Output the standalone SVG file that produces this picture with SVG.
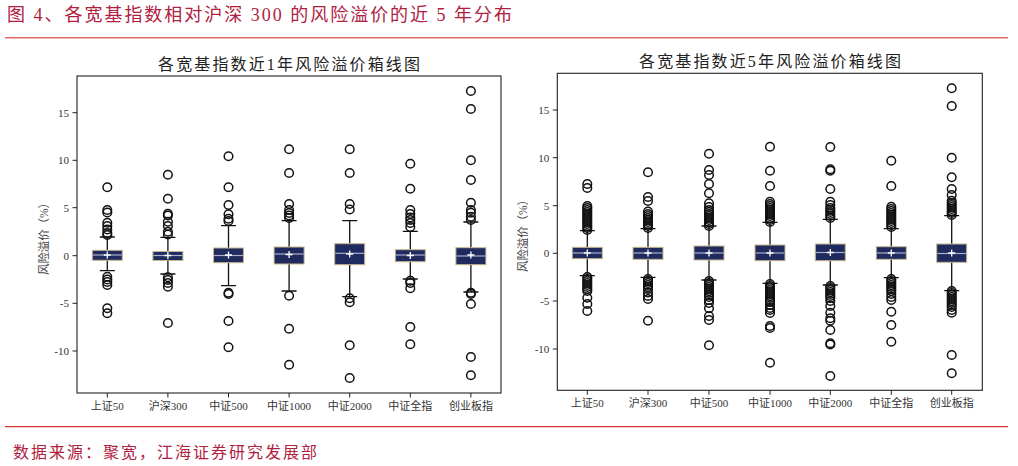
<svg xmlns="http://www.w3.org/2000/svg" width="1018" height="466" viewBox="0 0 1018 466">
<style>
.hdr{font-family:"Liberation Serif","Noto Sans CJK SC",serif;font-size:18px;fill:#b0203f}
.src{font-family:"Liberation Serif","Noto Sans CJK SC",serif;font-size:16px;fill:#b0203f}
.ttl{font-family:"Liberation Serif","Noto Sans CJK SC",serif;font-size:16px;fill:#222}
.tk{font-family:"Liberation Serif","Noto Sans CJK SC",serif;font-size:11px;fill:#333}
.yl{font-family:"Liberation Serif","Noto Sans CJK SC",serif;font-size:11.5px;fill:#444}
.frame{fill:none;stroke:#222;stroke-width:1.1}
.tick{stroke:#222;stroke-width:1}
.box{fill:#1f2a5e;stroke:#c8b890;stroke-width:1}
.wh{stroke:#111;stroke-width:1.3;fill:none}
.med{stroke:#a9b0cc;stroke-width:1.2}
.mean{stroke:#fff;stroke-width:1.3;fill:none}
.fl circle{fill:none;stroke:#111;stroke-width:1.5}
</style>
<g id="header">
<text class="hdr" x="7" y="21" textLength="505" lengthAdjust="spacing">图 4、各宽基指数相对沪深 300 的风险溢价的近 5 年分布</text>
<line x1="5" y1="37.7" x2="1008" y2="37.7" stroke="#e06a6a" stroke-width="1.4"/>
</g>
<g id="footer">
<line x1="5" y1="426.7" x2="1008" y2="426.7" stroke="#d93030" stroke-width="1.2"/>
<text class="src" x="13" y="457.5" textLength="304" lengthAdjust="spacing">数据来源：聚宽，江海证券研究发展部</text>
</g>

<!-- LEFT CHART -->
<g id="chart-1y">
<text class="ttl" x="289" y="70" text-anchor="middle" textLength="262" lengthAdjust="spacing">各宽基指数近1年风险溢价箱线图</text>
<rect class="frame" x="77" y="76" width="424" height="317"/>
<g id="left-yaxis">
<line class="tick" x1="72.5" y1="112.7" x2="77" y2="112.7"/>
<line class="tick" x1="72.5" y1="160.3" x2="77" y2="160.3"/>
<line class="tick" x1="72.5" y1="207.7" x2="77" y2="207.7"/>
<line class="tick" x1="72.5" y1="255.7" x2="77" y2="255.7"/>
<line class="tick" x1="72.5" y1="303.3" x2="77" y2="303.3"/>
<line class="tick" x1="72.5" y1="351" x2="77" y2="351"/>
<text class="tk" x="69" y="116.5" text-anchor="end">15</text>
<text class="tk" x="69" y="164" text-anchor="end">10</text>
<text class="tk" x="69" y="211.5" text-anchor="end">5</text>
<text class="tk" x="69" y="259.5" text-anchor="end">0</text>
<text class="tk" x="69" y="307" text-anchor="end">-5</text>
<text class="tk" x="69" y="355" text-anchor="end">-10</text>
<text class="yl" transform="translate(48,236) rotate(-90)" x="-39" y="0" textLength="78" lengthAdjust="spacing">风险溢价（%）</text>
</g>
<g id="left-xaxis">
<line class="tick" x1="107.3" y1="393" x2="107.3" y2="397.5"/>
<line class="tick" x1="167.9" y1="393" x2="167.9" y2="397.5"/>
<line class="tick" x1="228.5" y1="393" x2="228.5" y2="397.5"/>
<line class="tick" x1="289.1" y1="393" x2="289.1" y2="397.5"/>
<line class="tick" x1="349.7" y1="393" x2="349.7" y2="397.5"/>
<line class="tick" x1="410.3" y1="393" x2="410.3" y2="397.5"/>
<line class="tick" x1="470.9" y1="393" x2="470.9" y2="397.5"/>
<text class="tk" x="107.3" y="410" text-anchor="middle">上证50</text>
<text class="tk" x="167.9" y="410" text-anchor="middle">沪深300</text>
<text class="tk" x="228.5" y="410" text-anchor="middle">中证500</text>
<text class="tk" x="289.1" y="410" text-anchor="middle">中证1000</text>
<text class="tk" x="349.7" y="410" text-anchor="middle">中证2000</text>
<text class="tk" x="410.3" y="410" text-anchor="middle">中证全指</text>
<text class="tk" x="470.9" y="410" text-anchor="middle">创业板指</text>
</g>

<g id="L-sz50">
<path class="wh" d="M107.3 250.3V237M99.8 237h15M107.3 260.3V270.7M99.8 270.7h15"/>
<rect class="box" x="92.3" y="250.3" width="30" height="10"/>
<line class="med" x1="92.8" y1="255" x2="121.8" y2="255"/>
<path class="mean" d="M103.8 255h7M107.3 251.5v7"/>
<g class="fl" transform="translate(107.3,0)">
<circle r="4.3" cy="187.3"/><circle r="4.3" cy="210"/><circle r="4.3" cy="212.5"/><circle r="4.3" cy="222.7"/><circle r="4.3" cy="226"/><circle r="4.3" cy="229.5"/><circle r="4.3" cy="233"/><circle r="4.3" cy="235"/>
<circle r="4.3" cy="276.7"/><circle r="4.3" cy="279.5"/><circle r="4.3" cy="282"/><circle r="4.3" cy="285"/><circle r="4.3" cy="308.3"/><circle r="4.3" cy="313.3"/>
</g>
</g>
<g id="L-hs300">
<path class="wh" d="M167.9 251.5V237.3M160.4 237.3h15M167.9 260.5V274M160.4 274h15"/>
<rect class="box" x="152.9" y="251.5" width="30" height="9"/>
<line class="med" x1="153.4" y1="255.5" x2="182.4" y2="255.5"/>
<path class="mean" d="M164.4 255.5h7M167.9 252v7"/>
<g class="fl" transform="translate(167.9,0)">
<circle r="4.3" cy="174.7"/><circle r="4.3" cy="198.7"/><circle r="4.3" cy="213.7"/><circle r="4.3" cy="215.5"/><circle r="4.3" cy="221.7"/><circle r="4.3" cy="226"/><circle r="4.3" cy="231.7"/><circle r="4.3" cy="234.5"/>
<circle r="4.3" cy="277.3"/><circle r="4.3" cy="280"/><circle r="4.3" cy="283"/><circle r="4.3" cy="286.7"/><circle r="4.3" cy="323"/>
</g>
</g>
<g id="L-zz500">
<path class="wh" d="M228.5 248V225.7M221 225.7h15M228.5 262.7V285.7M221 285.7h15"/>
<rect class="box" x="213.5" y="248" width="30" height="14.7"/>
<line class="med" x1="214" y1="255.5" x2="243" y2="255.5"/>
<path class="mean" d="M225 255h7M228.5 251.5v7"/>
<g class="fl" transform="translate(228.5,0)">
<circle r="4.3" cy="156.3"/><circle r="4.3" cy="187.3"/><circle r="4.3" cy="205"/><circle r="4.3" cy="214.3"/><circle r="4.3" cy="218.7"/><circle r="4.3" cy="221"/>
<circle r="4.3" cy="292.7"/><circle r="4.3" cy="294"/><circle r="4.3" cy="321"/><circle r="4.3" cy="347.3"/>
</g>
</g>
<g id="L-zz1000">
<path class="wh" d="M289.1 247V220.7M281.6 220.7h15M289.1 264V291M281.6 291h15"/>
<rect class="box" x="274.1" y="247" width="30" height="17"/>
<line class="med" x1="274.6" y1="254" x2="303.6" y2="254"/>
<path class="mean" d="M285.6 254.5h7M289.1 251v7"/>
<g class="fl" transform="translate(289.1,0)">
<circle r="4.3" cy="149.3"/><circle r="4.3" cy="173"/><circle r="4.3" cy="204"/><circle r="4.3" cy="210"/><circle r="4.3" cy="213"/><circle r="4.3" cy="215.5"/><circle r="4.3" cy="218"/>
<circle r="4.3" cy="295.7"/><circle r="4.3" cy="328.7"/><circle r="4.3" cy="364.7"/>
</g>
</g>
<g id="L-zz2000">
<path class="wh" d="M349.7 243.7V220.7M342.2 220.7h15M349.7 264.7V296.7M342.2 296.7h15"/>
<rect class="box" x="334.7" y="243.7" width="30" height="21"/>
<line class="med" x1="335.2" y1="253.3" x2="364.2" y2="253.3"/>
<path class="mean" d="M346.2 254h7M349.7 250.5v7"/>
<g class="fl" transform="translate(349.7,0)">
<circle r="4.3" cy="149.3"/><circle r="4.3" cy="173"/><circle r="4.3" cy="204"/><circle r="4.3" cy="209.5"/>
<circle r="4.3" cy="298.3"/><circle r="4.3" cy="302.3"/><circle r="4.3" cy="345.3"/><circle r="4.3" cy="378"/>
</g>
</g>
<g id="L-zzqz">
<path class="wh" d="M410.3 249.7V231.3M402.8 231.3h15M410.3 261.7V279M402.8 279h15"/>
<rect class="box" x="395.3" y="249.7" width="30" height="12"/>
<line class="med" x1="395.8" y1="255" x2="424.8" y2="255"/>
<path class="mean" d="M406.8 255.5h7M410.3 252v7"/>
<g class="fl" transform="translate(410.3,0)">
<circle r="4.3" cy="163.7"/><circle r="4.3" cy="188.7"/><circle r="4.3" cy="210"/><circle r="4.3" cy="214"/><circle r="4.3" cy="217.5"/><circle r="4.3" cy="220"/><circle r="4.3" cy="223"/><circle r="4.3" cy="227"/>
<circle r="4.3" cy="280.7"/><circle r="4.3" cy="283"/><circle r="4.3" cy="288.3"/><circle r="4.3" cy="327"/><circle r="4.3" cy="344.3"/>
</g>
</g>
<g id="L-cybz">
<path class="wh" d="M470.9 247.7V222M463.4 222h15M470.9 264.7V292M463.4 292h15"/>
<rect class="box" x="455.9" y="247.7" width="30" height="17"/>
<line class="med" x1="456.4" y1="256" x2="485.4" y2="256"/>
<path class="mean" d="M467.4 255h7M470.9 251.5v7"/>
<g class="fl" transform="translate(470.9,0)">
<circle r="4.3" cy="91"/><circle r="4.3" cy="109"/><circle r="4.3" cy="160.3"/><circle r="4.3" cy="180"/><circle r="4.3" cy="202.7"/><circle r="4.3" cy="210"/><circle r="4.3" cy="212.7"/><circle r="4.3" cy="216.7"/><circle r="4.3" cy="220"/>
<circle r="4.3" cy="292.7"/><circle r="4.3" cy="294"/><circle r="4.3" cy="304"/><circle r="4.3" cy="357"/><circle r="4.3" cy="375.3"/>
</g>
</g>
</g>

<!-- RIGHT CHART -->
<g id="chart-5y">
<text class="ttl" x="770" y="67" text-anchor="middle" textLength="262" lengthAdjust="spacing">各宽基指数近5年风险溢价箱线图</text>
<rect class="frame" x="557.3" y="73.3" width="425" height="317"/>
<g id="right-yaxis">
<line class="tick" x1="552.8" y1="110" x2="557.3" y2="110"/>
<line class="tick" x1="552.8" y1="157.7" x2="557.3" y2="157.7"/>
<line class="tick" x1="552.8" y1="205.7" x2="557.3" y2="205.7"/>
<line class="tick" x1="552.8" y1="253.3" x2="557.3" y2="253.3"/>
<line class="tick" x1="552.8" y1="301" x2="557.3" y2="301"/>
<line class="tick" x1="552.8" y1="349" x2="557.3" y2="349"/>
<text class="tk" x="549.3" y="114" text-anchor="end">15</text>
<text class="tk" x="549.3" y="161.5" text-anchor="end">10</text>
<text class="tk" x="549.3" y="209.5" text-anchor="end">5</text>
<text class="tk" x="549.3" y="257" text-anchor="end">0</text>
<text class="tk" x="549.3" y="305" text-anchor="end">-5</text>
<text class="tk" x="549.3" y="353" text-anchor="end">-10</text>
<text class="yl" transform="translate(527,233) rotate(-90)" x="-39" y="0" textLength="78" lengthAdjust="spacing">风险溢价（%）</text>
</g>
<g id="right-xaxis">
<line class="tick" x1="587.3" y1="390.3" x2="587.3" y2="394.8"/>
<line class="tick" x1="648" y1="390.3" x2="648" y2="394.8"/>
<line class="tick" x1="709" y1="390.3" x2="709" y2="394.8"/>
<line class="tick" x1="770" y1="390.3" x2="770" y2="394.8"/>
<line class="tick" x1="830.3" y1="390.3" x2="830.3" y2="394.8"/>
<line class="tick" x1="891.3" y1="390.3" x2="891.3" y2="394.8"/>
<line class="tick" x1="951.7" y1="390.3" x2="951.7" y2="394.8"/>
<text class="tk" x="587.3" y="407.3" text-anchor="middle">上证50</text>
<text class="tk" x="648" y="407.3" text-anchor="middle">沪深300</text>
<text class="tk" x="709" y="407.3" text-anchor="middle">中证500</text>
<text class="tk" x="770" y="407.3" text-anchor="middle">中证1000</text>
<text class="tk" x="830.3" y="407.3" text-anchor="middle">中证2000</text>
<text class="tk" x="891.3" y="407.3" text-anchor="middle">中证全指</text>
<text class="tk" x="951.7" y="407.3" text-anchor="middle">创业板指</text>
</g>

<g id="R-sz50">
<path class="wh" d="M587.3 247.3V230.7M579.8 230.7h15M587.3 258.7V275.7M579.8 275.7h15"/>
<rect class="box" x="572.3" y="247.3" width="30" height="11.4"/>
<line class="med" x1="572.8" y1="253" x2="601.8" y2="253"/>
<path class="mean" d="M583.8 253h7M587.3 249.5v7"/>
<g class="fl" transform="translate(587.3,0)">
<circle r="4.3" cy="184"/><circle r="4.3" cy="188"/><circle r="4.3" cy="206"/><circle r="4.3" cy="208"/><circle r="4.3" cy="210"/><circle r="4.3" cy="212"/><circle r="4.3" cy="214"/><circle r="4.3" cy="216"/><circle r="4.3" cy="218"/><circle r="4.3" cy="220"/><circle r="4.3" cy="222"/><circle r="4.3" cy="224"/><circle r="4.3" cy="226"/><circle r="4.3" cy="228"/><circle r="4.3" cy="230"/>
<circle r="4.3" cy="277"/><circle r="4.3" cy="279"/><circle r="4.3" cy="281"/><circle r="4.3" cy="283"/><circle r="4.3" cy="285"/><circle r="4.3" cy="287"/><circle r="4.3" cy="289"/><circle r="4.3" cy="291"/><circle r="4.3" cy="297.7"/><circle r="4.3" cy="304"/><circle r="4.3" cy="311"/>
</g>
</g>
<g id="R-hs300">
<path class="wh" d="M648 247.3V228.7M640.5 228.7h15M648 259.3V277.3M640.5 277.3h15"/>
<rect class="box" x="633" y="247.3" width="30" height="12"/>
<line class="med" x1="633.5" y1="253" x2="662.5" y2="253"/>
<path class="mean" d="M644.5 253h7M648 249.5v7"/>
<g class="fl" transform="translate(648,0)">
<circle r="4.3" cy="172.3"/><circle r="4.3" cy="197"/><circle r="4.3" cy="201"/><circle r="4.3" cy="211.5"/><circle r="4.3" cy="214"/><circle r="4.3" cy="216"/><circle r="4.3" cy="218"/><circle r="4.3" cy="220"/><circle r="4.3" cy="222"/><circle r="4.3" cy="224"/><circle r="4.3" cy="226"/><circle r="4.3" cy="228"/>
<circle r="4.3" cy="279"/><circle r="4.3" cy="281"/><circle r="4.3" cy="283"/><circle r="4.3" cy="285"/><circle r="4.3" cy="287"/><circle r="4.3" cy="289"/><circle r="4.3" cy="292.5"/><circle r="4.3" cy="296"/><circle r="4.3" cy="299"/><circle r="4.3" cy="320.7"/>
</g>
</g>
<g id="R-zz500">
<path class="wh" d="M709 246V226M701.5 226h15M709 260V280M701.5 280h15"/>
<rect class="box" x="694" y="246" width="30" height="14"/>
<line class="med" x1="694.5" y1="253" x2="723.5" y2="253"/>
<path class="mean" d="M705.5 253h7M709 249.5v7"/>
<g class="fl" transform="translate(709,0)">
<circle r="4.3" cy="153.7"/><circle r="4.3" cy="170"/><circle r="4.3" cy="175"/><circle r="4.3" cy="184"/><circle r="4.3" cy="193.3"/><circle r="4.3" cy="203.3"/><circle r="4.3" cy="207"/><circle r="4.3" cy="210"/><circle r="4.3" cy="212"/><circle r="4.3" cy="214"/><circle r="4.3" cy="216"/><circle r="4.3" cy="218"/><circle r="4.3" cy="220"/><circle r="4.3" cy="222"/><circle r="4.3" cy="224"/><circle r="4.3" cy="226"/>
<circle r="4.3" cy="281"/><circle r="4.3" cy="283"/><circle r="4.3" cy="285"/><circle r="4.3" cy="287"/><circle r="4.3" cy="289"/><circle r="4.3" cy="291"/><circle r="4.3" cy="293"/><circle r="4.3" cy="295"/><circle r="4.3" cy="297"/><circle r="4.3" cy="300"/><circle r="4.3" cy="303"/><circle r="4.3" cy="308.3"/><circle r="4.3" cy="316"/><circle r="4.3" cy="320"/><circle r="4.3" cy="345.3"/>
</g>
</g>
<g id="R-zz1000">
<path class="wh" d="M770 245V222.3M762.5 222.3h15M770 260.7V283.3M762.5 283.3h15"/>
<rect class="box" x="755" y="245" width="30" height="15.7"/>
<line class="med" x1="755.5" y1="253" x2="784.5" y2="253"/>
<path class="mean" d="M766.5 253h7M770 249.5v7"/>
<g class="fl" transform="translate(770,0)">
<circle r="4.3" cy="146.7"/><circle r="4.3" cy="170.7"/><circle r="4.3" cy="186"/><circle r="4.3" cy="201.7"/><circle r="4.3" cy="204"/><circle r="4.3" cy="206"/><circle r="4.3" cy="208"/><circle r="4.3" cy="210"/><circle r="4.3" cy="212"/><circle r="4.3" cy="214"/><circle r="4.3" cy="216"/><circle r="4.3" cy="218"/><circle r="4.3" cy="220"/><circle r="4.3" cy="222"/>
<circle r="4.3" cy="284"/><circle r="4.3" cy="286"/><circle r="4.3" cy="288"/><circle r="4.3" cy="290"/><circle r="4.3" cy="292"/><circle r="4.3" cy="294"/><circle r="4.3" cy="296"/><circle r="4.3" cy="298"/><circle r="4.3" cy="300"/><circle r="4.3" cy="302"/><circle r="4.3" cy="305"/><circle r="4.3" cy="308"/><circle r="4.3" cy="310"/><circle r="4.3" cy="313"/><circle r="4.3" cy="326"/><circle r="4.3" cy="328"/><circle r="4.3" cy="362.7"/>
</g>
</g>
<g id="R-zz2000">
<path class="wh" d="M830.3 244V219.3M822.8 219.3h15M830.3 260.7V285M822.8 285h15"/>
<rect class="box" x="815.3" y="244" width="30" height="16.7"/>
<line class="med" x1="815.8" y1="252.5" x2="844.8" y2="252.5"/>
<path class="mean" d="M826.8 252.5h7M830.3 249v7"/>
<g class="fl" transform="translate(830.3,0)">
<circle r="4.3" cy="147"/><circle r="4.3" cy="169.3"/><circle r="4.3" cy="170.7"/><circle r="4.3" cy="189"/><circle r="4.3" cy="201.7"/><circle r="4.3" cy="205"/><circle r="4.3" cy="208"/><circle r="4.3" cy="210"/><circle r="4.3" cy="212"/><circle r="4.3" cy="214"/><circle r="4.3" cy="216"/><circle r="4.3" cy="218"/>
<circle r="4.3" cy="286"/><circle r="4.3" cy="288"/><circle r="4.3" cy="290"/><circle r="4.3" cy="292"/><circle r="4.3" cy="294"/><circle r="4.3" cy="296"/><circle r="4.3" cy="298"/><circle r="4.3" cy="301"/><circle r="4.3" cy="306"/><circle r="4.3" cy="312.7"/><circle r="4.3" cy="318.3"/><circle r="4.3" cy="320.7"/><circle r="4.3" cy="330"/><circle r="4.3" cy="343.3"/><circle r="4.3" cy="344.5"/><circle r="4.3" cy="376"/>
</g>
</g>
<g id="R-zzqz">
<path class="wh" d="M891.3 246.7V228.7M883.8 228.7h15M891.3 259.3V277.7M883.8 277.7h15"/>
<rect class="box" x="876.3" y="246.7" width="30" height="12.6"/>
<line class="med" x1="876.8" y1="253" x2="905.8" y2="253"/>
<path class="mean" d="M887.8 253h7M891.3 249.5v7"/>
<g class="fl" transform="translate(891.3,0)">
<circle r="4.3" cy="160.7"/><circle r="4.3" cy="186"/><circle r="4.3" cy="206.7"/><circle r="4.3" cy="209"/><circle r="4.3" cy="211"/><circle r="4.3" cy="213"/><circle r="4.3" cy="215"/><circle r="4.3" cy="217"/><circle r="4.3" cy="219"/><circle r="4.3" cy="221"/><circle r="4.3" cy="223"/><circle r="4.3" cy="225"/><circle r="4.3" cy="227"/>
<circle r="4.3" cy="279"/><circle r="4.3" cy="281"/><circle r="4.3" cy="283"/><circle r="4.3" cy="285"/><circle r="4.3" cy="287"/><circle r="4.3" cy="289"/><circle r="4.3" cy="291"/><circle r="4.3" cy="294"/><circle r="4.3" cy="297"/><circle r="4.3" cy="300"/><circle r="4.3" cy="311.7"/><circle r="4.3" cy="325"/><circle r="4.3" cy="341.7"/>
</g>
</g>
<g id="R-cybz">
<path class="wh" d="M951.7 244V215.7M944.2 215.7h15M951.7 262.3V290.7M944.2 290.7h15"/>
<rect class="box" x="936.7" y="244" width="30" height="18.3"/>
<line class="med" x1="937.2" y1="253.5" x2="966.2" y2="253.5"/>
<path class="mean" d="M948.2 253h7M951.7 249.5v7"/>
<g class="fl" transform="translate(951.7,0)">
<circle r="4.3" cy="88.3"/><circle r="4.3" cy="106"/><circle r="4.3" cy="157.7"/><circle r="4.3" cy="177.3"/><circle r="4.3" cy="189"/><circle r="4.3" cy="195"/><circle r="4.3" cy="200.7"/><circle r="4.3" cy="203"/><circle r="4.3" cy="205"/><circle r="4.3" cy="207"/><circle r="4.3" cy="209"/><circle r="4.3" cy="211"/><circle r="4.3" cy="213"/><circle r="4.3" cy="215"/>
<circle r="4.3" cy="291"/><circle r="4.3" cy="293"/><circle r="4.3" cy="295"/><circle r="4.3" cy="297"/><circle r="4.3" cy="299"/><circle r="4.3" cy="301"/><circle r="4.3" cy="303"/><circle r="4.3" cy="305"/><circle r="4.3" cy="307"/><circle r="4.3" cy="310"/><circle r="4.3" cy="312.7"/><circle r="4.3" cy="355"/><circle r="4.3" cy="373.3"/>
</g>
</g>
</g>
</svg>
